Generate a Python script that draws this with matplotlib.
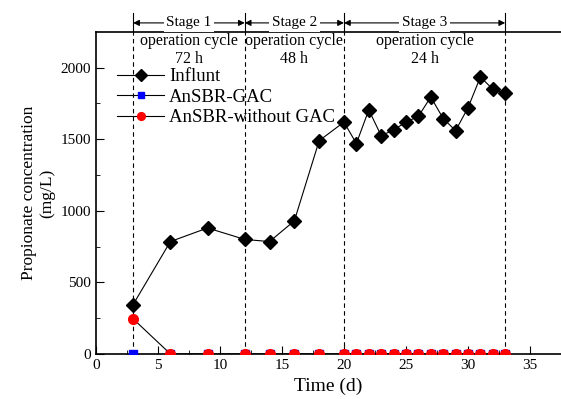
import numpy as np
import matplotlib.pyplot as plt
import matplotlib.transforms as mtransforms

plt.rcParams['font.family'] = ['Liberation Serif', 'DejaVu Serif']
plt.rcParams['mathtext.fontset'] = 'stix'

# data
days_inf = [3, 6, 9, 12, 14, 16, 18, 20, 21, 22, 23, 24, 25, 26, 27, 28, 29, 30, 31, 32, 33]
influent = [345, 785, 880, 800, 785, 930, 1490, 1620, 1470, 1705, 1525, 1565, 1620, 1660,
            1795, 1645, 1560, 1720, 1935, 1850, 1820]
gac = [0] * len(days_inf)
no_gac = [245] + [0] * (len(days_inf) - 1)

stage_bounds = [3, 12, 20, 33]
stage_names = ['Stage 1', 'Stage 2', 'Stage 3']
cycle_labels = ['operation cycle\n72 h', 'operation cycle\n48 h', 'operation cycle\n24 h']

fig = plt.figure(figsize=(5.61, 3.99), dpi=100)
ax = fig.add_axes([0.171, 0.113, 0.829, 0.807])

ax.plot(days_inf, influent, color='black', lw=0.8, marker='D', ms=7.5,
        mfc='black', mec='black', label='Influnt', zorder=4)
ax.plot(days_inf, gac, color='black', lw=0.8, marker='s', ms=5.5,
        mfc='blue', mec='blue', label='AnSBR-GAC', zorder=5)
ax.plot(days_inf, no_gac, color='black', lw=0.8, marker='o', ms=7,
        mfc='red', mec='red', label='AnSBR-without GAC', zorder=6)

ax.set_xlim(0, 37.5)
ax.set_ylim(0, 2250)
ax.set_xticks(np.arange(0, 36, 5))
ax.set_yticks(np.arange(0, 2001, 500))
ax.set_xticks(np.arange(0, 37.5, 2.5), minor=True)
ax.set_yticks(np.arange(0, 2250, 250), minor=True)
ax.tick_params(which='both', direction='in', labelsize=11)
ax.tick_params(which='major', length=5.5)
ax.tick_params(which='minor', length=3)
ax.spines['right'].set_visible(False)
for s in ['left', 'bottom', 'top']:
    ax.spines[s].set_linewidth(1.2)

ax.set_xlabel('Time (d)', fontsize=14)
ax.set_ylabel('Propionate concentration\n(mg/L)', fontsize=12.5)

trans = mtransforms.blended_transform_factory(ax.transData, ax.transAxes)
for xb in stage_bounds:
    ax.plot([xb, xb], [0, 1], ls=(0, (4, 3)), color='black', lw=0.8, transform=trans, zorder=1)
    ax.plot([xb, xb], [1, 1.06], color='black', lw=0.8, transform=trans, clip_on=False)

for i, name in enumerate(stage_names):
    x0, x1 = stage_bounds[i], stage_bounds[i + 1]
    ax.annotate('', xy=(x0, 1.028), xytext=(x1, 1.028), xycoords=trans, textcoords=trans,
                arrowprops=dict(arrowstyle='<|-|>', color='black', lw=0.8,
                                shrinkA=0, shrinkB=0, mutation_scale=9))
    ax.text((x0 + x1) / 2, 1.028, name, transform=trans, ha='center', va='center',
            fontsize=11, bbox=dict(facecolor='white', edgecolor='none', pad=2))
    ax.text((x0 + x1) / 2, 0.997, cycle_labels[i], transform=trans, ha='center', va='top',
            fontsize=11.5, linespacing=1.15)

leg = ax.legend(loc='upper left', bbox_to_anchor=(0.03, 0.911), frameon=False, fontsize=13.5,
                handlelength=2.5, handletextpad=0.25, labelspacing=0.18, borderaxespad=0,
                markerscale=0.8)

fig.savefig('out.png', dpi=100)
